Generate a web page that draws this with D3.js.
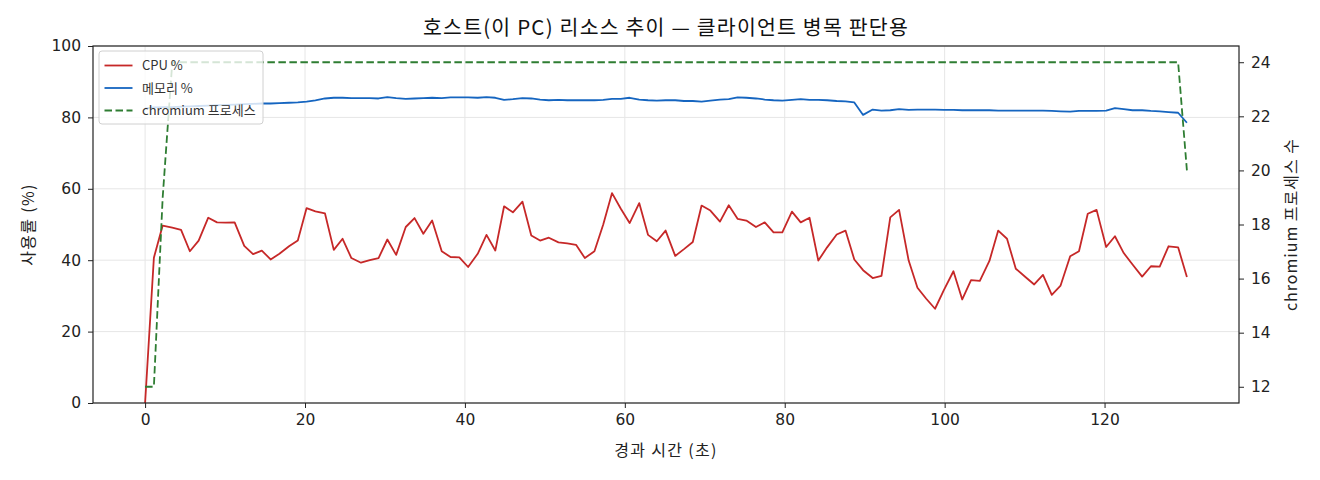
<!DOCTYPE html>
<html>
<head>
<meta charset="utf-8">
<script src="https://cdn.jsdelivr.net/npm/d3@7"></script>
<style>
  body { margin: 0; background: #fff; }
  svg { font-family: "Noto Sans CJK KR", "Noto Sans", sans-serif; }
  .grid line { stroke: #e6e6e6; stroke-width: 1; }
  .axis text { font-family: "DejaVu Sans", sans-serif; font-size: 15.5px; fill: #222; }
  .axis path, .axis line { stroke: #222; }
</style>
</head>
<body>
<svg id="canvas" width="1320" height="480"></svg>
<script>
// elapsed seconds for each sample
var times = [0, 1.1, 2.2, 3.4, 4.5, 5.6, 6.7, 7.9, 9.0, 10.1, 11.2, 12.4, 13.5, 14.6, 15.7, 16.8, 18.0, 19.1, 20.2, 21.3,
  22.5, 23.6, 24.7, 25.8, 27.0, 28.1, 29.2, 30.3, 31.4, 32.6, 33.7, 34.8, 35.9, 37.1, 38.2, 39.3, 40.4, 41.6, 42.7, 43.8,
  44.9, 46.0, 47.2, 48.3, 49.4, 50.5, 51.7, 52.8, 53.9, 55.0, 56.2, 57.3, 58.4, 59.5, 60.6, 61.8, 62.9, 64.0, 65.1, 66.3,
  67.4, 68.5, 69.6, 70.7, 71.9, 73.0, 74.1, 75.2, 76.4, 77.5, 78.6, 79.7, 80.9, 82.0, 83.1, 84.2, 85.3, 86.5, 87.6, 88.7,
  89.8, 91.0, 92.1, 93.2, 94.3, 95.5, 96.6, 97.7, 98.8, 99.9, 101.1, 102.2, 103.3, 104.4, 105.6, 106.7, 107.8, 108.9, 110.1, 111.2,
  112.3, 113.4, 114.5, 115.7, 116.8, 117.9, 119.0, 120.2, 121.3, 122.4, 123.5, 124.7, 125.8, 126.9, 128.0, 129.2, 130.3];

var cpuPct = [0, 40.7, 49.7, 49.1, 48.5, 42.5, 45.5, 51.9, 50.6, 50.5, 50.6, 44.0, 41.7, 42.7, 40.2, 41.8, 43.9, 45.5, 54.6, 53.7,
  53.1, 42.9, 46.0, 40.6, 39.3, 40.0, 40.6, 45.8, 41.5, 49.3, 51.8, 47.4, 51.1, 42.5, 40.9, 40.8, 38.1, 41.8, 47.1, 42.7,
  55.1, 53.4, 56.4, 46.9, 45.5, 46.3, 45.0, 44.7, 44.3, 40.6, 42.5, 50.0, 58.8, 54.4, 50.4, 56.0, 47.1, 45.3, 48.3, 41.2,
  43.1, 45.1, 55.3, 53.9, 50.8, 55.4, 51.6, 51.1, 49.3, 50.6, 47.8, 47.8, 53.6, 50.6, 51.9, 39.9, 43.6, 47.2, 48.3, 40.2,
  37.2, 35.0, 35.6, 52.0, 54.1, 39.9, 32.3, 29.2, 26.4, 31.6, 36.9, 29.0, 34.4, 34.2, 39.8, 48.3, 46.0, 37.6, 35.3, 33.2,
  35.9, 30.3, 32.9, 41.1, 42.5, 53.0, 54.1, 43.7, 46.7, 42.0, 38.8, 35.4, 38.3, 38.2, 43.9, 43.6, 35.3];

var memPct = [82.5, 82.8, 82.9, 82.9, 83.0, 83.1, 83.2, 83.3, 83.4, 83.5, 83.6, 83.7, 83.8, 83.9, 83.9, 84.0, 84.1, 84.2, 84.4, 84.8,
  85.3, 85.5, 85.5, 85.4, 85.4, 85.4, 85.3, 85.7, 85.4, 85.2, 85.3, 85.4, 85.5, 85.4, 85.6, 85.6, 85.6, 85.5, 85.7, 85.5,
  84.9, 85.1, 85.4, 85.3, 85.0, 84.8, 84.9, 84.8, 84.8, 84.8, 84.8, 84.9, 85.2, 85.2, 85.5, 85.0, 84.8, 84.7, 84.8, 84.8,
  84.6, 84.6, 84.4, 84.7, 85.0, 85.1, 85.6, 85.5, 85.3, 85.0, 84.8, 84.7, 84.9, 85.1, 84.9, 84.9, 84.8, 84.6, 84.5, 84.2,
  80.7, 82.2, 81.9, 82.0, 82.3, 82.1, 82.2, 82.2, 82.2, 82.1, 82.1, 82.0, 82.0, 82.0, 82.0, 81.9, 81.9, 81.9, 81.9, 81.9,
  81.9, 81.8, 81.7, 81.6, 81.8, 81.8, 81.8, 81.9, 82.6, 82.3, 82.0, 82.0, 81.8, 81.7, 81.5, 81.3, 78.5];

var chromiumProcs = [12, 12, 19, 24, 24, 24, 24, 24, 24, 24, 24, 24, 24, 24, 24, 24, 24, 24, 24, 24,
  24, 24, 24, 24, 24, 24, 24, 24, 24, 24, 24, 24, 24, 24, 24, 24, 24, 24, 24, 24,
  24, 24, 24, 24, 24, 24, 24, 24, 24, 24, 24, 24, 24, 24, 24, 24, 24, 24, 24, 24,
  24, 24, 24, 24, 24, 24, 24, 24, 24, 24, 24, 24, 24, 24, 24, 24, 24, 24, 24, 24,
  24, 24, 24, 24, 24, 24, 24, 24, 24, 24, 24, 24, 24, 24, 24, 24, 24, 24, 24, 24,
  24, 24, 24, 24, 24, 24, 24, 24, 24, 24, 24, 24, 24, 24, 24, 24, 20];

var xTicks = [0, 20, 40, 60, 80, 100, 120];
var leftTicks = [0, 20, 40, 60, 80, 100];
var rightTicks = [12, 14, 16, 18, 20, 22, 24];

var seriesInfo = [
  { name: 'CPU %', values: cpuPct, color: '#c62828', dash: null, axis: 'left' },
  { name: '메모리 %', values: memPct, color: '#1565c0', dash: null, axis: 'left' },
  { name: 'chromium 프로세스', values: chromiumProcs, color: '#2e7d32', dash: '7.5,3.5', axis: 'right' }
];

// Margin amounts
var margin = { top: 46, right: 81, bottom: 77, left: 93 };
var width = 1320 - margin.left - margin.right;
var height = 480 - margin.top - margin.bottom;

var canvas = d3.select('#canvas');
var g = canvas.append('g').attr('transform', 'translate(' + margin.left + ',' + margin.top + ')');

// matplotlib style 5% padding
function padded(ext) {
  var p = (ext[1] - ext[0]) * 0.05;
  return [ext[0] - p, ext[1] + p];
}

var x = d3.scaleLinear().domain(padded(d3.extent(times))).range([0, width]);
var yLeft = d3.scaleLinear().domain([0, 100]).range([height, 0]);
var yRight = d3.scaleLinear().domain(padded(d3.extent(chromiumProcs))).range([height, 0]);

// grid
var grid = g.append('g').classed('grid', true);
grid.selectAll('.gx').data(xTicks).enter().append('line')
  .attr('x1', function (d) { return x(d); }).attr('x2', function (d) { return x(d); })
  .attr('y1', 0).attr('y2', height);
grid.selectAll('.gy').data(leftTicks).enter().append('line')
  .attr('x1', 0).attr('x2', width)
  .attr('y1', function (d) { return yLeft(d); }).attr('y2', function (d) { return yLeft(d); });

// lines
canvas.append('defs').append('clipPath').attr('id', 'plotclip')
  .append('rect').attr('width', width).attr('height', height);

var lines = g.append('g').attr('clip-path', 'url(#plotclip)');
seriesInfo.forEach(function (s) {
  var yScale = s.axis === 'left' ? yLeft : yRight;
  var line = d3.line()
    .x(function (d, i) { return x(times[i]); })
    .y(function (d) { return yScale(d); });
  lines.append('path')
    .datum(s.values)
    .attr('d', line)
    .attr('fill', 'none')
    .attr('stroke', s.color)
    .attr('stroke-width', 1.8)
    .attr('stroke-linejoin', 'round')
    .attr('stroke-dasharray', s.dash);
});

// axes
g.append('g').classed('axis', true)
  .attr('transform', 'translate(0,' + height + ')')
  .call(d3.axisBottom(x).tickValues(xTicks).tickSize(5).tickPadding(6).tickFormat(d3.format('d')));
g.append('g').classed('axis', true)
  .call(d3.axisLeft(yLeft).tickValues(leftTicks).tickSize(5).tickPadding(7).tickFormat(d3.format('d')));
g.append('g').classed('axis', true)
  .attr('transform', 'translate(' + width + ',0)')
  .call(d3.axisRight(yRight).tickValues(rightTicks).tickSize(5).tickPadding(7).tickFormat(d3.format('d')));
g.selectAll('.axis .domain').remove();

// frame
g.append('rect').attr('width', width).attr('height', height)
  .attr('fill', 'none').attr('stroke', '#222').attr('stroke-width', 1.2);

// legend
var legend = g.append('g').attr('transform', 'translate(6,5)');
legend.append('rect')
  .attr('width', 164).attr('height', 73).attr('rx', 3)
  .attr('fill', '#fff').attr('fill-opacity', 0.8)
  .attr('stroke', '#d0d0d0');
var items = legend.selectAll('.item').data(seriesInfo).enter().append('g')
  .attr('transform', function (d, i) { return 'translate(0,' + (14.5 + i * 22.5) + ')'; });
items.append('line')
  .attr('x1', 5.5).attr('x2', 33.5)
  .attr('stroke', function (d) { return d.color; })
  .attr('stroke-width', 1.8)
  .attr('stroke-dasharray', function (d) { return d.dash; });
items.append('text')
  .attr('x', 43).attr('dy', '0.36em')
  .attr('font-size', 13).attr('fill', '#333')
  .text(function (d) { return d.name; });

// titles
canvas.append('text')
  .attr('x', margin.left + width / 2).attr('y', 35)
  .attr('text-anchor', 'middle').attr('font-size', 20.5).attr('letter-spacing', 1.2).attr('fill', '#111')
  .text('호스트(이 PC) 리소스 추이 — 클라이언트 병목 판단용');
canvas.append('text')
  .attr('x', margin.left + width / 2).attr('y', 456)
  .attr('text-anchor', 'middle').attr('font-size', 16).attr('letter-spacing', 1.3).attr('fill', '#222')
  .text('경과 시간 (초)');
canvas.append('text')
  .attr('transform', 'translate(34,' + (margin.top + height / 2) + ') rotate(-90)')
  .attr('text-anchor', 'middle').attr('font-size', 16).attr('letter-spacing', 1.3).attr('fill', '#222')
  .text('사용률 (%)');
canvas.append('text')
  .attr('transform', 'translate(1297,' + (margin.top + height / 2) + ') rotate(-90)')
  .attr('text-anchor', 'middle').attr('font-size', 16).attr('letter-spacing', 1).attr('fill', '#222')
  .text('chromium 프로세스 수');
</script>
</body>
</html>
